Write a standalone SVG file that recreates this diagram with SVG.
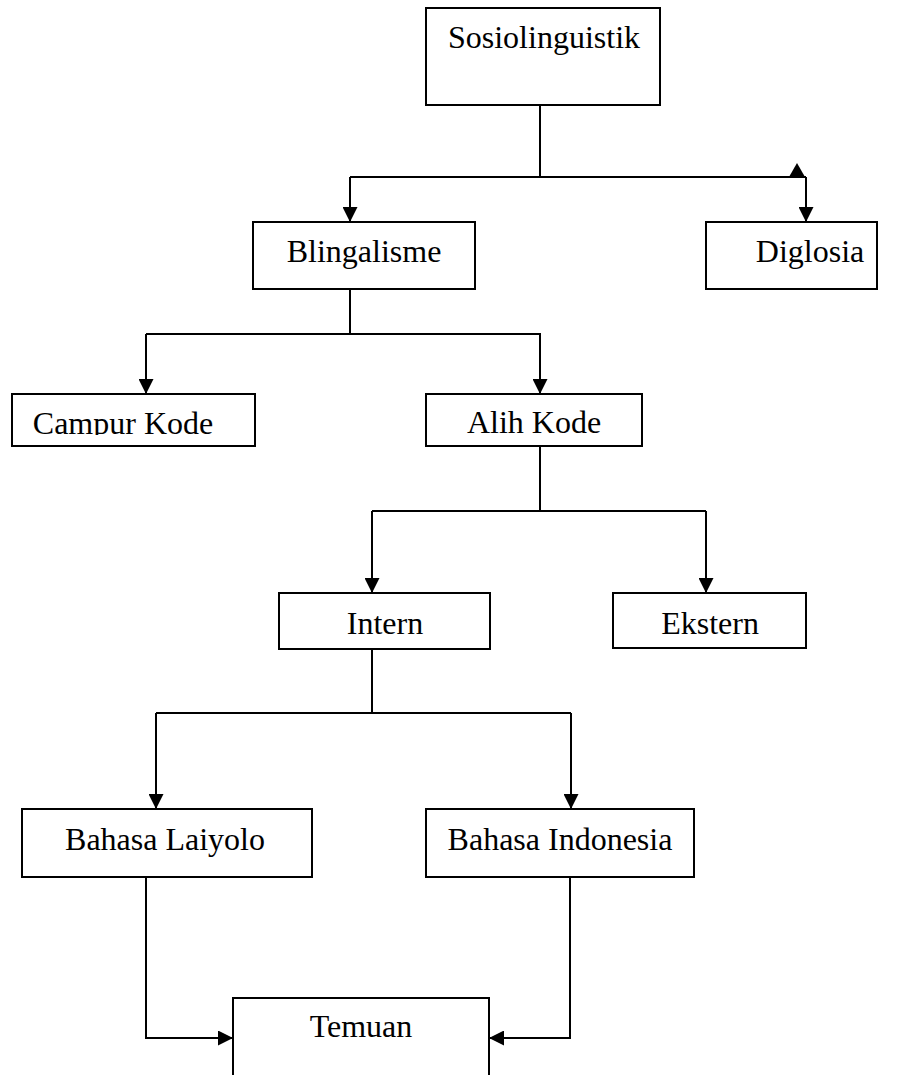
<svg xmlns="http://www.w3.org/2000/svg" width="905" height="1075" viewBox="0 0 905 1075">
<style>
.box{fill:#fff;stroke:#000;stroke-width:2}
.lbl{font-family:"Liberation Serif","Times New Roman",serif;font-size:32px;fill:#000;text-anchor:middle}
.ln{fill:none;stroke:#000;stroke-width:2}
</style>
<defs>
<marker id="ah" viewBox="0 0 15 15" markerWidth="15" markerHeight="15" refX="15" refY="7.5" orient="auto" markerUnits="userSpaceOnUse">
<path d="M0,0 L15,7.5 L0,15 Z" fill="#000"/>
</marker>
<clipPath id="ckclip"><rect x="0" y="380" width="300" height="55"/></clipPath>
</defs>
<rect width="905" height="1075" fill="#fff"/>
<g id="connectors">
<path class="ln" d="M540,105 V177 M350,177 H806"/>
<path class="ln" d="M350,177 V222" marker-end="url(#ah)"/>
<path class="ln" d="M806,177 V222" marker-end="url(#ah)"/>
<polygon points="789,177 805,177 797,163" fill="#000"/>
<path class="ln" d="M350,289 V334 M146,334 H541"/>
<path class="ln" d="M146,334 V394" marker-end="url(#ah)"/>
<path class="ln" d="M540,334 V394" marker-end="url(#ah)"/>
<path class="ln" d="M540,446 V511 M372,511 H706"/>
<path class="ln" d="M372,511 V593" marker-end="url(#ah)"/>
<path class="ln" d="M706,511 V593" marker-end="url(#ah)"/>
<path class="ln" d="M372,649 V713 M156,713 H571"/>
<path class="ln" d="M156,713 V809" marker-end="url(#ah)"/>
<path class="ln" d="M571,713 V809" marker-end="url(#ah)"/>
<path class="ln" d="M146,877 V1038 H233" marker-end="url(#ah)"/>
<path class="ln" d="M570,877 V1038 H489" marker-end="url(#ah)"/>
</g>
<g id="n-sosiolinguistik"><rect class="box" x="426" y="8" width="234" height="97"/><text class="lbl" x="544" y="48">Sosiolinguistik</text></g>
<g id="n-blingalisme"><rect class="box" x="253" y="222" width="222" height="67"/><text class="lbl" x="364" y="262">Blingalisme</text></g>
<g id="n-diglosia"><rect class="box" x="706" y="222" width="171" height="67"/><text class="lbl" x="810" y="262">Diglosia</text></g>
<g id="n-campur"><rect class="box" x="12" y="394" width="243" height="52"/><text class="lbl" x="123" y="434" clip-path="url(#ckclip)">Campur Kode</text></g>
<g id="n-alih"><rect class="box" x="426" y="394" width="216" height="52"/><text class="lbl" x="534" y="433">Alih Kode</text></g>
<g id="n-intern"><rect class="box" x="279" y="593" width="211" height="56"/><text class="lbl" x="385" y="634">Intern</text></g>
<g id="n-ekstern"><rect class="box" x="613" y="593" width="193" height="55"/><text class="lbl" x="710" y="634">Ekstern</text></g>
<g id="n-laiyolo"><rect class="box" x="22" y="809" width="290" height="68"/><text class="lbl" x="165" y="850">Bahasa Laiyolo</text></g>
<g id="n-indonesia"><rect class="box" x="426" y="809" width="268" height="68"/><text class="lbl" x="560" y="850">Bahasa Indonesia</text></g>
<g id="n-temuan"><rect class="box" x="233" y="998" width="256" height="90"/><text class="lbl" x="361" y="1037">Temuan</text></g>
</svg>
